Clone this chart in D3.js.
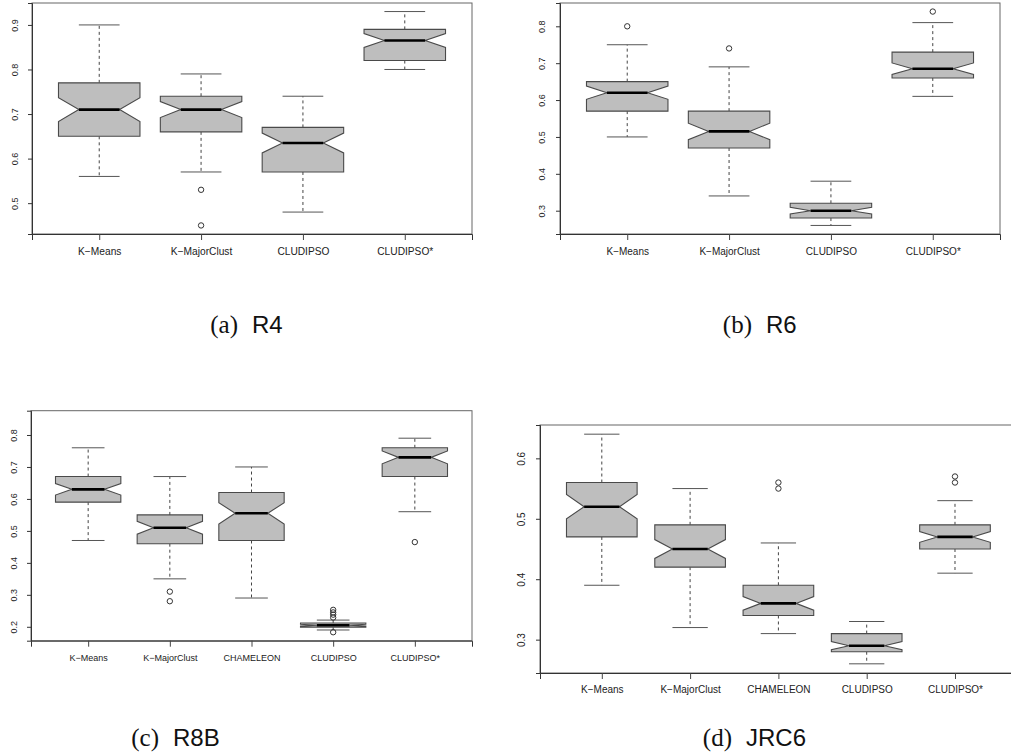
<!DOCTYPE html>
<html><head><meta charset="utf-8">
<script src="https://cdn.jsdelivr.net/npm/d3@7"></script>
<style>body{margin:0;background:#fff;} svg{display:block;}</style>
</head><body>
<svg id="chart" width="1011" height="753"></svg>
<script>
// ---------- data ----------
const categories4 = ["K\u2212Means", "K\u2212MajorClust", "CLUDIPSO", "CLUDIPSO*"];
const categories5 = ["K\u2212Means", "K\u2212MajorClust", "CHAMELEON", "CLUDIPSO", "CLUDIPSO*"];

// each row: [lower whisker, Q1, median, Q3, upper whisker]
const statsR4 = [[0.56, 0.65, 0.71, 0.77, 0.90], [0.57, 0.66, 0.71, 0.74, 0.79], [0.48, 0.57, 0.635, 0.67, 0.74], [0.80, 0.82, 0.865, 0.89, 0.93]];
const outliersR4 = [[], [0.53, 0.45], [], []];
const ticksR4 = [0.5, 0.6, 0.7, 0.8, 0.9];

const statsR6 = [[0.50, 0.57, 0.62, 0.65, 0.75], [0.34, 0.47, 0.515, 0.57, 0.69], [0.26, 0.28, 0.30, 0.32, 0.38], [0.61, 0.66, 0.685, 0.73, 0.81]];
const outliersR6 = [[0.80], [0.74], [], [0.84]];
const ticksR6 = [0.3, 0.4, 0.5, 0.6, 0.7, 0.8];

const statsR8B = [[0.47, 0.59, 0.63, 0.67, 0.76], [0.35, 0.46, 0.51, 0.55, 0.67], [0.29, 0.47, 0.555, 0.62, 0.70], [0.19, 0.199, 0.205, 0.212, 0.221], [0.56, 0.67, 0.73, 0.76, 0.79]];
const outliersR8B = [[], [0.31, 0.28], [], [0.253, 0.245, 0.238, 0.229, 0.183], [0.465]];
const ticksR8B = [0.2, 0.3, 0.4, 0.5, 0.6, 0.7, 0.8];

const statsJRC6 = [[0.39, 0.47, 0.52, 0.56, 0.64], [0.32, 0.42, 0.45, 0.49, 0.55], [0.31, 0.34, 0.36, 0.39, 0.46], [0.26, 0.28, 0.29, 0.31, 0.33], [0.41, 0.45, 0.47, 0.49, 0.53]];
const outliersJRC6 = [[], [], [0.56, 0.55], [], [0.57, 0.56]];
const ticksJRC6 = [0.3, 0.4, 0.5, 0.6];

const captionLetters = ["(a)", "(b)", "(c)", "(d)"];
const captionNames = ["R4", "R6", "R8B", "JRC6"];
const sampleSize = 50; // runs per method (sets notch size)

// ---------- layout ----------
const panels = [
  {cats: categories4, stats: statsR4, outs: outliersR4, ticks: ticksR4, left: 32, right: 472, top: 3, bottom: 234, ydom: [0.4308, 0.9492], labelOff: 14, labelSize: 9, xlabY: 255, xlabSize: 10.2, cap: {x: 245, y: 333}},
  {cats: categories4, stats: statsR6, outs: outliersR6, ticks: ticksR6, left: 560, right: 1000, top: 3, bottom: 234, ydom: [0.2368, 0.8632], labelOff: 15, labelSize: 9, xlabY: 255, xlabSize: 10, cap: {x: 759, y: 333}},
  {cats: categories5, stats: statsR8B, outs: outliersR8B, ticks: ticksR8B, left: 31, right: 472, top: 410.7, bottom: 640.7, ydom: [0.1565, 0.876], labelOff: 14, labelSize: 9, xlabY: 661, xlabSize: 9, cap: {x: 166, y: 746}},
  {cats: categories5, stats: statsJRC6, outs: outliersJRC6, ticks: ticksJRC6, left: 540, right: 1016.8, top: 425, bottom: 673, ydom: [0.2448, 0.6552], labelOff: 15, labelSize: 10, xlabY: 693, xlabSize: 10, cap: {x: 739, y: 746}}
];

const svg = d3.select("#chart");
const sansFont = "'Liberation Sans', Arial, sans-serif";
const serifFont = "'Liberation Serif', 'DejaVu Serif', serif";

panels.forEach((p, pi) => {
  const n = p.cats.length;
  const x = d3.scaleLinear().domain([1 - 0.5 - 0.04 * n, n + 0.5 + 0.04 * n]).range([p.left, p.right]);
  const y = d3.scaleLinear().domain(p.ydom).range([p.bottom, p.top]);
  const unit = x(2) - x(1);
  const hw = 0.4 * unit;     // box half width
  const nw = hw / 2;         // half width at notch
  const sw = hw / 2;         // staple half width

  const g = svg.append("g");

  p.stats.forEach((s, i) => {
    const [lo, q1, med, q3, hi] = s;
    const cx = x(i + 1);
    const notch = 1.58 * (q3 - q1) / Math.sqrt(sampleSize);
    g.append("line").attr("x1", cx).attr("x2", cx).attr("y1", y(q3)).attr("y2", y(hi))
      .attr("stroke", "#444").attr("stroke-dasharray", "3,3");
    g.append("line").attr("x1", cx).attr("x2", cx).attr("y1", y(q1)).attr("y2", y(lo))
      .attr("stroke", "#444").attr("stroke-dasharray", "3,3");
    [hi, lo].forEach(v => g.append("line").attr("x1", cx - sw).attr("x2", cx + sw)
      .attr("y1", y(v)).attr("y2", y(v)).attr("stroke", "#555").attr("stroke-width", 1));
    const pts = [
      [cx - hw, y(q3)], [cx + hw, y(q3)], [cx + hw, y(med + notch)], [cx + nw, y(med)],
      [cx + hw, y(med - notch)], [cx + hw, y(q1)], [cx - hw, y(q1)], [cx - hw, y(med - notch)],
      [cx - nw, y(med)], [cx - hw, y(med + notch)]
    ];
    g.append("path").attr("d", d3.line()(pts) + "Z")
      .attr("fill", "#bebebe").attr("stroke", "#4a4a4a").attr("stroke-width", 1.1);
    g.append("line").attr("x1", cx - nw).attr("x2", cx + nw).attr("y1", y(med)).attr("y2", y(med))
      .attr("stroke", "#000").attr("stroke-width", 2.6);
    p.outs[i].forEach(v => g.append("circle").attr("cx", cx).attr("cy", y(v)).attr("r", 2.7)
      .attr("fill", "none").attr("stroke", "#333").attr("stroke-width", 1));
  });

  g.append("rect").attr("x", p.left).attr("y", p.top).attr("width", p.right - p.left).attr("height", p.bottom - p.top)
    .attr("fill", "none").attr("stroke", "#666").attr("stroke-width", 1);

  const ya = g.append("g").attr("transform", `translate(${p.left},0)`)
    .call(d3.axisLeft(y).tickValues(p.ticks).tickSize(4).tickFormat(d3.format(".1f")));
  ya.select(".domain").attr("stroke", "#333");
  ya.selectAll(".tick line").attr("stroke", "#333");
  ya.selectAll(".tick text")
    .attr("transform", "rotate(-90)").attr("x", 0).attr("y", -p.labelOff).attr("dy", 0)
    .attr("text-anchor", "middle").attr("font-family", sansFont).attr("font-size", p.labelSize).attr("fill", "#222");

  const xa = g.append("g").attr("transform", `translate(0,${p.bottom})`)
    .call(d3.axisBottom(x).tickValues(d3.range(1, n + 1)).tickSize(6).tickFormat((d) => p.cats[d - 1]));
  xa.select(".domain").attr("stroke", "#333");
  xa.selectAll(".tick line").attr("stroke", "#444");
  xa.selectAll(".tick text").attr("y", p.xlabY - p.bottom).attr("dy", 0)
    .attr("font-family", sansFont).attr("font-size", p.xlabSize).attr("fill", "#222");

  // caption
  svg.append("text").attr("x", p.cap.x - 7).attr("y", p.cap.y).attr("text-anchor", "end").attr("fill", "#111")
    .attr("font-family", serifFont).attr("font-size", 25).text(captionLetters[pi]);
  svg.append("text").attr("x", p.cap.x + 7).attr("y", p.cap.y).attr("text-anchor", "start").attr("fill", "#111")
    .attr("font-family", sansFont).attr("font-size", 24).text(captionNames[pi]);
});
</script>
</body></html>
